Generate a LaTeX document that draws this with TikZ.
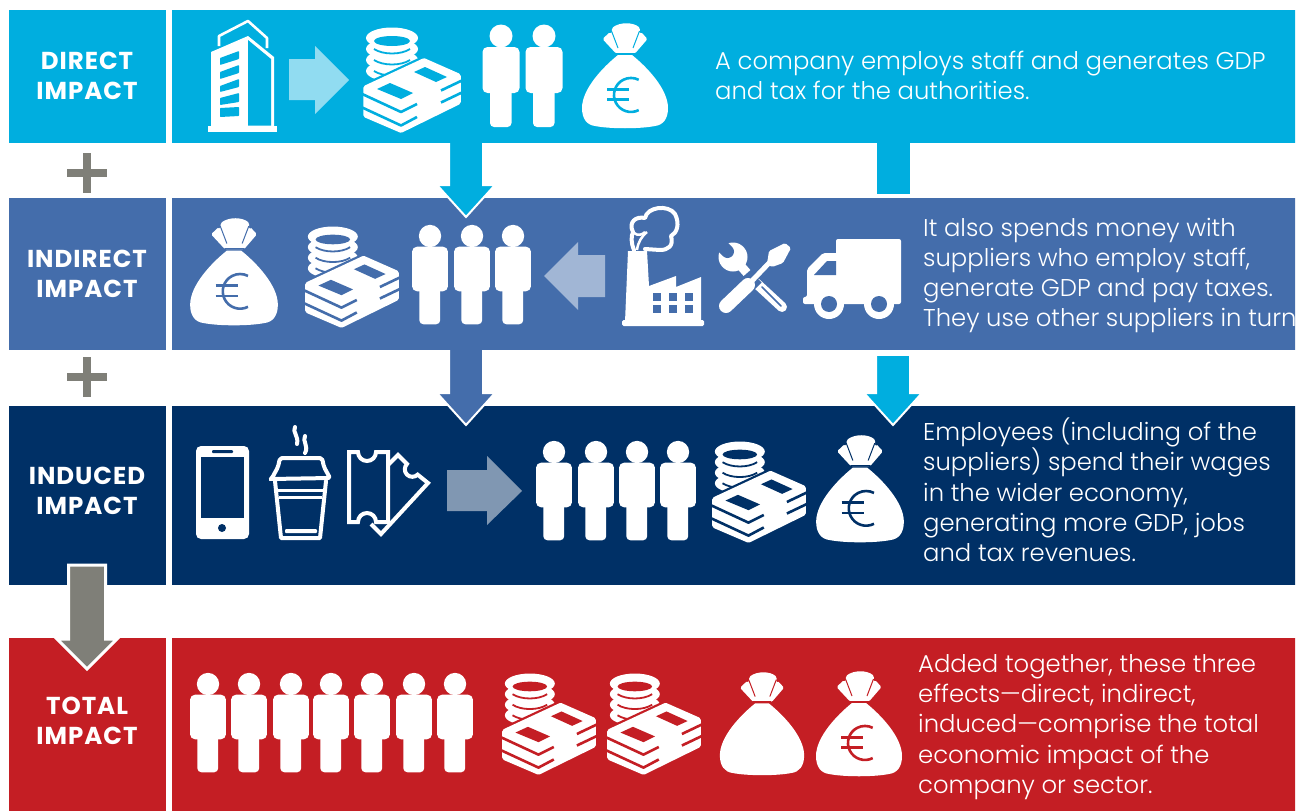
\documentclass[tikz,border=0pt]{standalone}
\usepackage{fontspec}
\setmainfont{Poppins Light}[BoldFont={Poppins Bold}]
\usetikzlibrary{calc}
\definecolor{cDirect}{HTML}{00AEDF}
\definecolor{cIndirect}{HTML}{446DAB}
\definecolor{cInduced}{HTML}{003066}
\definecolor{cTotal}{HTML}{C41E24}
\definecolor{cGray}{HTML}{7F7F78}
\tikzset{
  bar/.style={rectangle,inner sep=0pt,outer sep=0pt,draw=none,anchor=north west},
  lab/.style={text=white,align=center,font=\fontsize{24.5}{30}\selectfont\bfseries\addfontfeatures{LetterSpace=4},inner sep=0pt},
  body/.style={text=white,align=left,anchor=west,font=\fontsize{24.3}{30.3}\selectfont,inner sep=0pt},
  ws/.style={draw=white,line width=4pt,line join=round,line cap=round,fill=none},
}
\newcommand{\person}[3]{% x, y of head centre, scale
 \begin{scope}[shift={(#1,#2)},scale=#3]
 \fill[white] (0,0) circle (11.5);
 \fill[white,rounded corners=5pt] (-18.5,57) -- (-18.5,11) -- (18.5,11) -- (18.5,57) -- cycle;
 \fill[white,rounded corners=4pt] (-11,45) -- (-11,91) -- (10.5,91) -- (10.5,45) -- cycle;
 \end{scope}}
\newcommand{\bagshape}[4]{% x,y of centre, scale, bg
 \begin{scope}[shift={(#1,#2)},scale=#3]
 \fill[white] (-7,-20) .. controls (-22,-8) and (-43,14) .. (-43,33)
   .. controls (-43,44) and (-38,50) .. (-30,51)
   .. controls (-15,54) and (15,54) .. (30,51)
   .. controls (38,50) and (43,44) .. (43,33)
   .. controls (43,14) and (22,-8) .. (7,-20) -- cycle;
 \fill[white,rounded corners=1.5pt] (-9,-21.5) -- (-22.5,-36) -- (-15,-43) -- (-13.5,-41) -- (-13,-47)
   .. controls (-5,-53) and (8,-53) .. (15,-47) -- (14.5,-41) -- (16,-43) -- (22.5,-36) -- (10,-21.5) -- cycle;
 \draw[#4,line width=1pt] (-13.5,-44) -- (-7,-27) (14.5,-44) -- (8,-27);
 \draw[#4,line width=.9pt] (-9,-22) -- (9.5,-22);
 \end{scope}}
\newcommand{\eurosign}[4]{% x,y of bag centre, scale, colour
 \begin{scope}[shift={(#1,#2)},scale=#3]
 \draw[#4,line width=2.6pt] (6,20) ++(7.7,15.1) arc[start angle=63,end angle=297,radius=17];
 \draw[#4,line width=2.6pt] (-18,14.5) -- (4,14.5) (-18,24.5) -- (4,24.5);
 \end{scope}}
\newcommand{\money}[4]{% x,y top-left, scale, bg
 \begin{scope}[shift={(#1,#2)},scale=#3]
 \foreach \yy in {45,34,23,12}{
  \fill[white] (29,\yy-2) ellipse (26 and 10.5);}
 \fill[#4] (29,13) ellipse (18 and 5);
 \foreach \yy in {21,32,43}{
  \draw[#4,line width=1.8pt] (11,\yy) .. controls (20,\yy+6) and (38,\yy+6) .. (47,\yy);}
 \filldraw[draw=#4,line width=10pt,fill=#4,line join=round] (61,33) -- (95,48) -- (95,74) -- (38,102) -- (3,87) -- (3,60) -- cycle;
 \filldraw[draw=white,line width=5.5pt,fill=white,line join=round] (61,33) -- (95,48) -- (95,74) -- (38,102) -- (3,87) -- (3,60) -- cycle;
 \fill[#4] (62,39) -- (84,49) -- (73,54) -- (51,44) -- cycle;
 \fill[#4] (27,55) -- (50,65) -- (38,71) -- (14,61) -- cycle;
 \draw[#4,line width=2.6pt,line join=round] (-3,65) -- (38,84) -- (54,76) (78,62.5) -- (100,52);
 \draw[#4,line width=2.6pt,line join=round] (-3,78.5) -- (38,97.5) -- (54,89) (78,74.5) -- (100,64);
 \end{scope}}
\begin{document}
\begin{tikzpicture}[x=1pt,y=-1pt]
\useasboundingbox (0,0) rectangle (1296,811);
\begin{scope}
\clip (0,0) rectangle (1295,811);
% ---- bars
\node[bar,fill=cDirect,minimum width=157pt,minimum height=133pt] (l1) at (9,10) {};
\node[bar,fill=cDirect,minimum width=1124pt,minimum height=133pt] (r1) at (172,10) {};
\node[bar,fill=cIndirect,minimum width=157pt,minimum height=152pt] (l2) at (9,198) {};
\node[bar,fill=cIndirect,minimum width=1124pt,minimum height=152pt] (r2) at (172,198) {};
\node[bar,fill=cInduced,minimum width=157pt,minimum height=179pt] (l3) at (9,406) {};
\node[bar,fill=cInduced,minimum width=1124pt,minimum height=179pt] (r3) at (172,406) {};
\node[bar,fill=cTotal,minimum width=157pt,minimum height=173pt] (l4) at (9,638) {};
\node[bar,fill=cTotal,minimum width=1124pt,minimum height=173pt] (r4) at (172,638) {};
% ---- labels
\node[lab] (t1) at (87,75.5) {DIRECT\\IMPACT};
\node[lab] (t2) at (87,273.5) {INDIRECT\\IMPACT};
\node[lab] (t3) at (87,490.5) {INDUCED\\IMPACT};
\node[lab] (t4) at (87,721) {TOTAL\\IMPACT};
\node[body] (b1) at (715,75.5) {A company employs staff and generates GDP\\and tax for the authorities.};
\node[body] (b2) at (923,275.5) {It also spends money with\\suppliers who employ staff,\\generate GDP and pay taxes.\\They use other suppliers in turn.};
\node[body] (b3) at (923,490) {Employees (including of the\\suppliers) spend their wages\\in the wider economy,\\generating more GDP, jobs\\and tax revenues.};
\node[body] (b4) at (918,727) {Added together, these three\\effects—direct, indirect,\\induced—comprise the total\\economic impact of the\\company or sector.};
% ---- plus signs
\foreach \py in {173,377}{
 \fill[cGray] (67,\py-4) rectangle (107,\py+4);
 \fill[cGray] (83,\py-20) rectangle (91,\py+20);}
% ---- down arrows
\newcommand{\blockarrow}[4]{% from node, tip coordinate, colour, start offset
 \filldraw[draw=white,line width=2pt,fill=#3,line join=miter]
  ($(#2 |- #1.south)+(-17,#4)$) -- ($(#2)+(-17,-32)$) -- ($(#2)+(-29,-32)$) -- (#2)
  -- ($(#2)+(29,-32)$) -- ($(#2)+(17,-32)$) -- ($(#2 |- #1.south)+(17,#4)$);}
\coordinate (tipA) at (466,217);
\coordinate (tipB) at (466,425);
\coordinate (tipC) at (893,425);
\blockarrow{r1}{tipA}{cDirect}{0}
\blockarrow{r2}{tipB}{cIndirect}{0}
\blockarrow{r2}{tipC}{cDirect}{6}
\coordinate (stubC) at (893.5,194);
\fill[cDirect] ($(stubC |- r1.south)+(-16.5,0)$) rectangle ($(stubC)+(16.5,0)$);
% grey arrow
\coordinate (tipD) at (87,669);
\filldraw[draw=white,line width=3pt,fill=cGray,line join=miter]
 ($(tipD)+(-18.5,-104)$) -- ($(tipD)+(-18.5,-30)$) -- ($(tipD)+(-30,-30)$) -- (tipD)
 -- ($(tipD)+(30,-30)$) -- ($(tipD)+(18.5,-30)$) -- ($(tipD)+(18.5,-104)$) -- cycle;
% ---- row 1 icons
\fill[white] (208,126) rectangle (277,132);
\fill[white] (211,128) -- (211,52) -- (248,36) -- (274,57) -- (274,128) -- cycle;
\fill[cDirect] (248,40) -- (271,59) -- (271,125.5) -- (248,125.5) -- cycle;
\fill[cDirect,rounded corners=.7pt] (220,58) -- (239,51) -- (239,59) -- (220,65) -- cycle;
\fill[cDirect,rounded corners=.7pt] (220,72) -- (239,65) -- (239,73) -- (220,79) -- cycle;
\fill[cDirect,rounded corners=.7pt] (220,86) -- (239,79) -- (239,87) -- (220,92) -- cycle;
\fill[cDirect,rounded corners=.7pt] (220,98) -- (239,93) -- (239,102) -- (220,105) -- cycle;
\fill[cDirect,rounded corners=.7pt] (220,108) -- (239,107) -- (239,116) -- (220,117) -- cycle;
\draw[white,line width=2.6pt,line join=round] (219,46) -- (219,36) -- (248,21) -- (267,38) -- (267,48);
\fill[white,opacity=.57] (289,59) -- (315,59) -- (315,46) -- (349,80) -- (315,114) -- (315,100) -- (289,100) -- cycle;
\money{363}{28}{1}{cDirect}
\person{501}{36}{1}
\person{544}{36}{1}
\bagshape{625}{75}{1}{cDirect}
\eurosign{625}{75}{1}{cDirect}
% ---- row 2 icons
\bagshape{234}{271}{1.02}{cIndirect}
\eurosign{234}{271}{1.02}{cIndirect}
\money{305}{227}{.96}{cIndirect}
\person{430}{236}{.97}
\person{472}{236}{.97}
\person{513}{236}{.97}
\fill[white,opacity=.5] (544,276) -- (578,242) -- (578,255) -- (605,255) -- (605,297) -- (578,297) -- (578,310) -- cycle;
% factory
\fill[white,rounded corners=1.5pt] (622,320) rectangle (704,326);
\fill[white] (625,322) -- (628,251) -- (647,251) -- (649,286) -- (676,276) -- (676,287) -- (701,277) -- (701,322) -- cycle;
\foreach \wx in {653,669,685}{\foreach \wy in {293,305}{\fill[cIndirect] (\wx,\wy) rectangle (\wx+8,\wy+8);}}
\draw[ws] (634,250) .. controls (631,243) and (631,236) .. (633,232)
 .. controls (628,222) and (636,216) .. (645,218)
 .. controls (647,207) and (668,204) .. (675,214)
 .. controls (680,224) and (677,233) .. (671,236)
 .. controls (674,246) and (668,250) .. (660,250) -- (645,249);
\draw[white,line width=2.5pt] (637,250) .. controls (638,242) and (642,236) .. (647,232);
\draw[white,line width=2.5pt] (634,233) .. controls (638,236) and (642,235) .. (645,232);
% tools
\draw[white,line width=10pt,line cap=round] (756,283) -- (782,307);
\draw[cIndirect,line width=1.6pt,line cap=round] (762,287) -- (781,306);
\draw[white,line width=9pt] (747,273) -- (733,257);
\fill[white] (733,257) circle (14.5);
\draw[cIndirect,line width=13pt,line cap=round] (727.5,251.5) -- (716,240);
\draw[cIndirect,line width=13pt] (745,290) -- (757,278);
\draw[white,line width=14pt,line cap=round] (726,306) -- (748,285);
\draw[white,line width=5pt] (748,285) -- (770,262);
\fill[white,rounded corners=1.5pt] (767,264) -- (769,251) -- (785,243) -- (791,248) -- (783,263) -- (772,267) -- cycle;
% truck
\fill[white,rounded corners=2pt] (836,239) rectangle (901,304);
\fill[white,rounded corners=2pt] (838,253) -- (823,253) -- (807,269) -- (807,297) -- (803,297) -- (803,304) -- (838,304) -- cycle;
\fill[cIndirect] (814,275) -- (827,261) -- (836,261) -- (836,275) -- cycle;
\fill[white] (829,304) circle (15) (879,304) circle (15);
\fill[cIndirect] (829,304) circle (8) (879,304) circle (8);
% ---- row 3 icons
\fill[white,rounded corners=5pt] (196,446) rectangle (249,539);
\fill[cInduced] (201,457) rectangle (244,518);
\fill[cInduced,rounded corners=1pt] (212,450) rectangle (233,453);
\fill[cInduced] (222,528) circle (4);
% cup
\draw[ws,rounded corners=2pt] (272,478) -- (278,467) -- (280,458) -- (322,458) -- (324,467) -- (330,478) -- (271,479) -- cycle;
\draw[ws] (275,481) -- (281,538) -- (320,538) -- (326,481);
\draw[white,line width=3pt] (279,497) -- (322,497);
\fill[white,rounded corners=1pt] (285,529) rectangle (317,533);
\draw[white,line width=3pt] (278,490) -- (324,490);
\draw[white,line width=4pt,line cap=round] (295,427) .. controls (292,432) and (299,436) .. (297,444);
\draw[white,line width=4pt,line cap=round] (305,436) .. controls (302,441) and (309,446) .. (305,453);
% tickets
\draw[white,line width=4pt,line join=miter] (349,452) -- (358,452) arc[start angle=180,end angle=0,radius=9] -- (388,452) -- (388,522) -- (376,522) arc[start angle=0,end angle=-180,radius=9] -- (349,522) -- cycle;
\draw[white,line width=4pt,line join=miter] (388,465) -- (398,455) -- (407,464) arc[start angle=225,end angle=45,radius=7.5] -- (428,483) -- (381,534) -- (371,524);
\fill[white,opacity=.5] (447,470) -- (487,470) -- (487,456) -- (522,491) -- (487,525) -- (487,511) -- (447,511) -- cycle;
\person{554}{452}{.97}
\person{596}{452}{.97}
\person{637}{452}{.97}
\person{678}{452}{.97}
\money{712}{442}{.96}{cInduced}
\bagshape{860}{488}{1.02}{cInduced}
\eurosign{860}{488}{1.02}{cInduced}
% ---- row 4 icons
\foreach \hx in {208,249,291,331,372,414,455}{\person{\hx}{684}{.97}}
\money{502}{674}{.96}{cTotal}
\money{607}{674}{.96}{cTotal}
\bagshape{762}{723}{.98}{cTotal}
\bagshape{859}{723}{1.0}{cTotal}
\eurosign{859}{723}{1}{cTotal}
\end{scope}
\end{tikzpicture}
\end{document}
